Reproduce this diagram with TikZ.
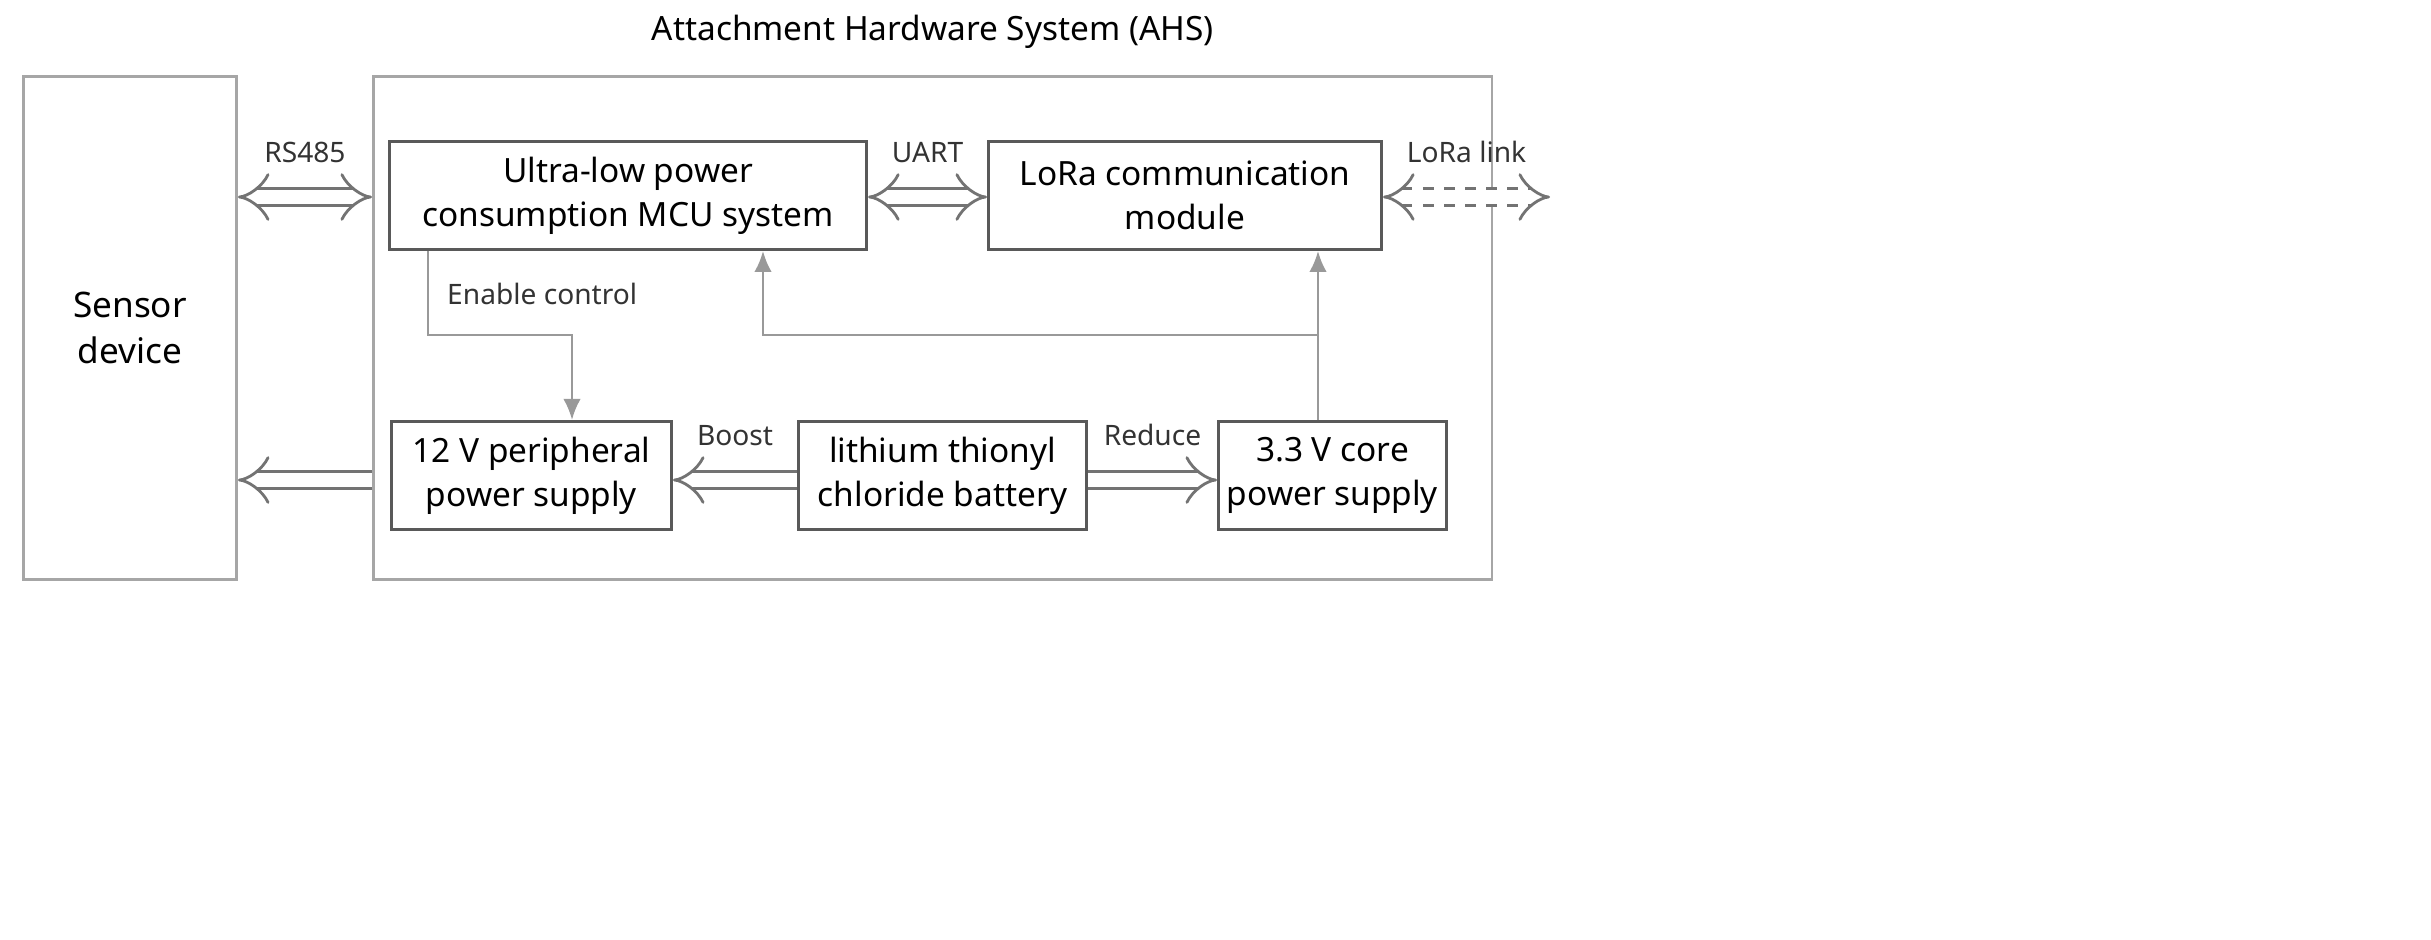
\documentclass[tikz,border=0pt]{standalone}
\usepackage{fontspec}
\setmainfont{Noto Sans}
\usetikzlibrary{arrows.meta, positioning}

\begin{document}
\begin{tikzpicture}[x=0.01cm, y=-0.01cm,
    block/.style={rectangle, draw=black!65, thick, align=center, inner sep=0pt, minimum height=1.08cm, font=\fontsize{9.5}{12.5}\selectfont},
    frame/.style={rectangle, draw=black!35, thick, minimum height=5.03cm},
    lbl/.style={font=\fontsize{8}{10}\selectfont, text=black!80},
    link/.style={draw=black!40, thick, -{Latex[length=6pt,width=5pt]}},
    bus/.style={draw=black!55, double=white, double distance=4pt, thick, {Implies}-{Implies}},
    feed/.style={draw=black!55, double=white, double distance=4pt, thick, -{Implies}}
]
\useasboundingbox (0,0) rectangle (2431,939);

% outer frames
\node[frame, minimum width=2.13cm, anchor=north west] (sensor) at (22,75) {};
\node[font=\fontsize{10}{13}\selectfont, align=center] at (sensor.center) {Sensor\\device};
\node[frame, minimum width=11.18cm, anchor=north west] (ahs) at (372,75) {};
\node[font=\fontsize{9.5}{12}\selectfont, above=4pt of ahs] (title) {Attachment Hardware System (AHS)};

% inner blocks
\node[block, minimum width=4.77cm, anchor=north west] (mcu) at (388,140) {Ultra-low power\\consumption MCU system};
\node[block, minimum width=3.93cm, anchor=north west] (lora) at (987,140) {LoRa communication\\module};
\node[block, minimum width=2.80cm, anchor=north west] (psu12) at (390,420) {12 V peripheral\\power supply};
\node[block, minimum width=2.88cm, anchor=north west] (batt) at (797,420) {lithium thionyl\\chloride battery};
\node[block, minimum width=2.28cm, anchor=north west] (psu33) at (1217,420) {3.3 V core\\power supply};

% helper points
\coordinate (top) at (0,197);
\coordinate (low) at (0,480);
\coordinate (air) at (1550,197);
\coordinate (en) at (428,335);
\coordinate (ent) at (572,335);
\coordinate (tap) at (1318,335);
\coordinate (mtap) at (763,335);

% buses
\draw[bus] (sensor.east |- top) -- (ahs.west |- top) node[lbl, midway, above=6pt] {RS485};
\draw[bus] (mcu.east |- top) -- (lora.west |- top) node[lbl, midway, above=6pt] {UART};
\draw[bus, dashed] (lora.east |- top) -- (air) node[lbl, midway, above=6pt] {LoRa link};
\draw[feed] (batt.west |- low) -- (psu12.east |- low) node[lbl, midway, above=6pt] {Boost};
\draw[feed] (batt.east |- low) -- (psu33.west |- low) node[lbl, midway, above=6pt] {Reduce};
\draw[feed] (ahs.west |- low) -- (sensor.east |- low);

% control and supply lines
\draw[link] (mcu.south -| en) -- (en) -- (ent) node[lbl, midway, above=5pt, xshift=12pt] {Enable control} -- (psu12.north -| ent);
\draw[link] (psu33.north -| tap) -- (lora.south -| tap);
\draw[link] (tap) -- (mtap) -- (mcu.south -| mtap);
\end{tikzpicture}
\end{document}
